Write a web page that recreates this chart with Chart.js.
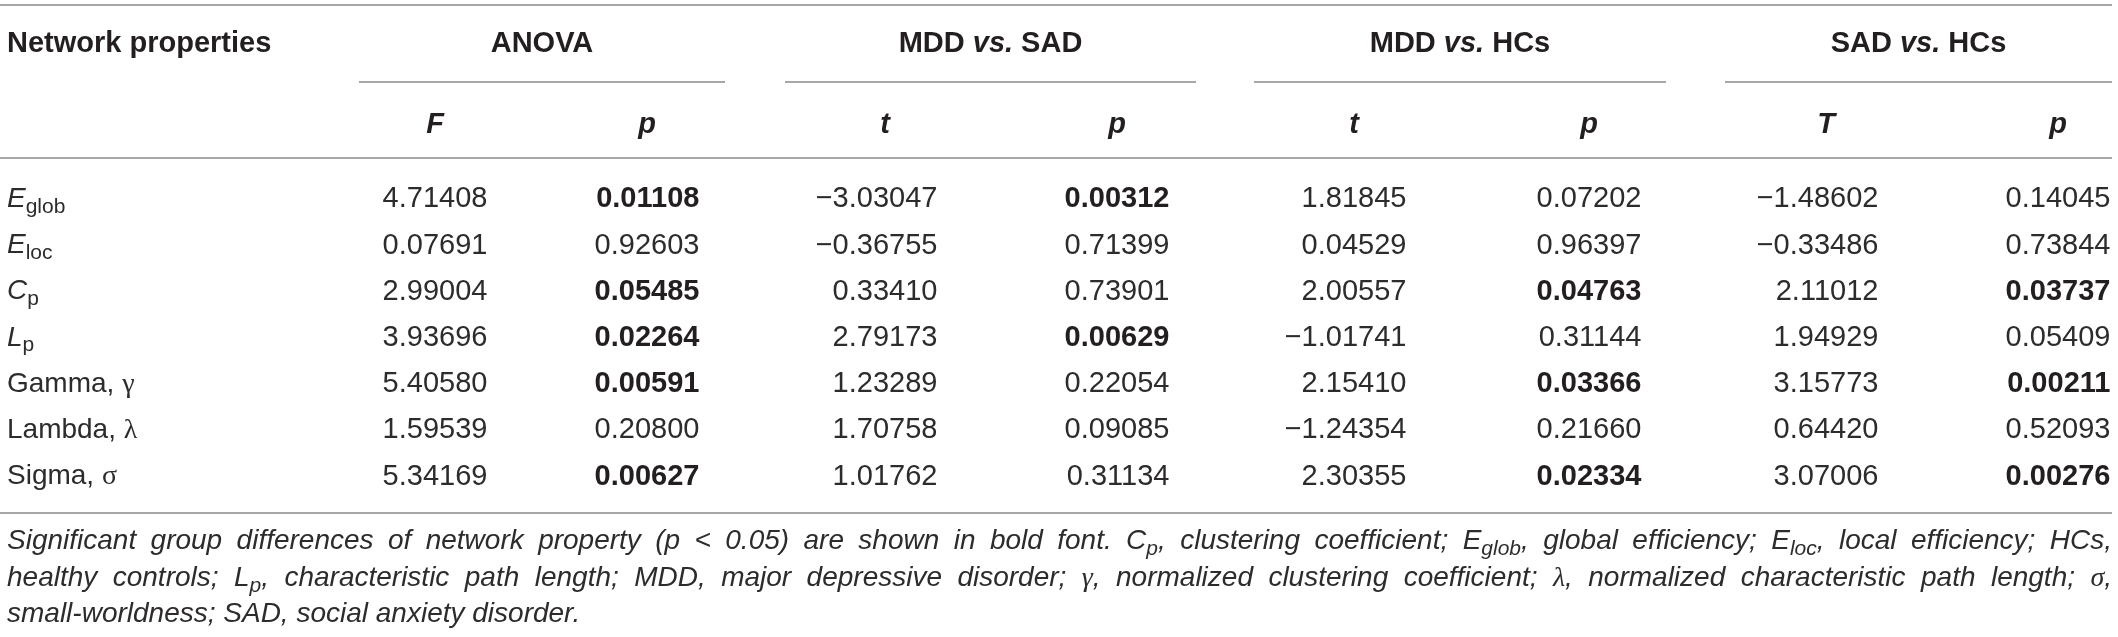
<!DOCTYPE html>
<html>
<head>
<meta charset="utf-8">
<script src="https://cdn.jsdelivr.net/npm/chart.js@4.4.1/dist/chart.umd.min.js"></script>
<style>
  html, body { margin: 0; padding: 0; background: #fff; }
  #wrap { width: 2118px; height: 637px; }
</style>
</head>
<body>
<div id="wrap"><canvas id="tbl" width="2118" height="637"></canvas></div>
<script>
// ---- table content ----
const groups = [
  [{ t: 'ANOVA', b: 1 }],
  [{ t: 'MDD ', b: 1 }, { t: 'vs.', b: 1, it: 1 }, { t: ' SAD', b: 1 }],
  [{ t: 'MDD ', b: 1 }, { t: 'vs.', b: 1, it: 1 }, { t: ' HCs', b: 1 }],
  [{ t: 'SAD ', b: 1 }, { t: 'vs.', b: 1, it: 1 }, { t: ' HCs', b: 1 }]
];
const statLabels = ['F', 'p', 't', 'p', 't', 'p', 'T', 'p'];

const propertyLabels = [
  [{ t: 'E', it: 1 }, { t: 'glob', sub: 1 }],
  [{ t: 'E', it: 1 }, { t: 'loc', sub: 1 }],
  [{ t: 'C', it: 1 }, { t: 'p', sub: 1 }],
  [{ t: 'L', it: 1 }, { t: 'p', sub: 1 }],
  [{ t: 'Gamma, ' }, { t: 'γ', serif: 1 }],
  [{ t: 'Lambda, ' }, { t: 'λ', serif: 1 }],
  [{ t: 'Sigma, ' }, { t: 'σ', serif: 1 }]
];

const anovaF     = [4.71408, 0.07691, 2.99004, 3.93696, 5.40580, 1.59539, 5.34169];
const anovaP     = [0.01108, 0.92603, 0.05485, 0.02264, 0.00591, 0.20800, 0.00627];
const mddSadT    = [-3.03047, -0.36755, 0.33410, 2.79173, 1.23289, 1.70758, 1.01762];
const mddSadP    = [0.00312, 0.71399, 0.73901, 0.00629, 0.22054, 0.09085, 0.31134];
const mddHcT     = [1.81845, 0.04529, 2.00557, -1.01741, 2.15410, -1.24354, 2.30355];
const mddHcP     = [0.07202, 0.96397, 0.04763, 0.31144, 0.03366, 0.21660, 0.02334];
const sadHcT     = [-1.48602, -0.33486, 2.11012, 1.94929, 3.15773, 0.64420, 3.07006];
const sadHcP     = [0.14045, 0.73844, 0.03737, 0.05409, 0.00211, 0.52093, 0.00276];

// which p values are set in bold in the source table
const anovaBold  = [1, 0, 1, 1, 1, 0, 1];
const mddSadBold = [1, 0, 0, 1, 0, 0, 0];
const mddHcBold  = [0, 0, 1, 0, 1, 0, 1];
const sadHcBold  = [0, 0, 1, 0, 1, 0, 1];

const columns = [anovaF, anovaP, mddSadT, mddSadP, mddHcT, mddHcP, sadHcT, sadHcP];
const boldCols = [null, anovaBold, null, mddSadBold, null, mddHcBold, null, sadHcBold];

const noteLines = [
  [{ t: 'Significant group differences of network property (p  < 0.05) are shown in bold font. C' }, { t: 'p', sub: 1 },
   { t: ', clustering coefficient; E' }, { t: 'glob', sub: 1 }, { t: ', global efficiency; E' }, { t: 'loc', sub: 1 },
   { t: ', local efficiency; HCs,' }],
  [{ t: 'healthy controls; L' }, { t: 'p', sub: 1 }, { t: ', characteristic path length; MDD, major depressive disorder; ' },
   { t: 'γ', serif: 1 }, { t: ', normalized clustering coefficient; ' }, { t: 'λ', serif: 1 },
   { t: ', normalized characteristic path length; ' }, { t: 'σ', serif: 1 }, { t: ',' }],
  [{ t: 'small-worldness; SAD, social anxiety disorder.' }]
];

// ---- layout (x in table units, y in row units) ----
const colCenter = [435, 647, 885, 1117, 1354, 1589, 1826, 2058];
const groupSpan = [[359, 725], [785, 1196], [1254, 1666], [1725, 2112]];
const leftX = 7, rightX = 2112;
const rowsY = { topRule: -4.156, group: -3.355, groupRule: -2.489, stat: -1.602, headRule: -0.844, bottomRule: 6.84 };
const noteY = [7.403, 8.203, 8.983];

const INK = '#231f20';
const LIGHT_INK = '#2e2b2c';
const RULE = '#8a8a8a';
const SANS = '"Liberation Sans", Arial, Helvetica, sans-serif';
const SERIF = '"Liberation Serif", "DejaVu Serif", serif';

function fontFor(run, size, italicAll) {
  const sz = run.sub ? Math.round(size * 0.76) : size;
  const it = run.it || (italicAll && !run.upright);
  return (it ? 'italic ' : '') + (run.b ? 'bold ' : '') + sz + 'px ' + (run.serif ? SERIF : SANS);
}

function runsWidth(ctx, runs, size, italicAll) {
  let w = 0;
  runs.forEach(r => { ctx.font = fontFor(r, size, italicAll); w += ctx.measureText(r.t).width; });
  return w;
}

function drawRuns(ctx, runs, x, centerY, size, italicAll) {
  const base = centerY + size * 0.36;
  let cx = x;
  runs.forEach(r => {
    ctx.font = fontFor(r, size, italicAll);
    ctx.fillText(r.t, cx, base + (r.sub ? size * 0.2 : 0));
    cx += ctx.measureText(r.t).width;
  });
}

function splitWords(runs) {
  const words = [];
  let cur = [];
  runs.forEach(r => {
    const parts = r.t.split(' ');
    parts.forEach((p, k) => {
      if (k > 0) { if (cur.length) words.push(cur); cur = []; }
      if (p.length) cur.push(Object.assign({}, r, { t: p }));
    });
  });
  if (cur.length) words.push(cur);
  return words;
}

const tablePlugin = {
  id: 'tableText',
  beforeDraw(chart) {
    const ctx = chart.ctx;
    ctx.save();
    ctx.fillStyle = '#fff';
    ctx.fillRect(0, 0, chart.width, chart.height);
    ctx.restore();
  },
  afterDatasetsDraw(chart) {
    const { ctx, scales: { x, y } } = chart;
    ctx.save();
    ctx.fillStyle = INK;
    ctx.textBaseline = 'alphabetic';
    ctx.textAlign = 'left';

    // rules
    ctx.strokeStyle = RULE;
    ctx.lineWidth = 1.6;
    const hRule = (x0, x1, v) => {
      const py = y.getPixelForValue(v);
      ctx.beginPath();
      ctx.moveTo(x.getPixelForValue(x0), py);
      ctx.lineTo(x.getPixelForValue(x1), py);
      ctx.stroke();
    };
    hRule(0, rightX, rowsY.topRule);
    hRule(0, rightX, rowsY.headRule);
    hRule(0, rightX, rowsY.bottomRule);
    groupSpan.forEach(s => hRule(s[0], s[1], rowsY.groupRule));

    // header rows
    drawRuns(ctx, [{ t: 'Network properties', b: 1 }], x.getPixelForValue(leftX), y.getPixelForValue(rowsY.group), 29);
    groups.forEach((g, k) => {
      const c = x.getPixelForValue((groupSpan[k][0] + groupSpan[k][1]) / 2);
      const w = runsWidth(ctx, g, 29);
      drawRuns(ctx, g, c - w / 2, y.getPixelForValue(rowsY.group), 29);
    });
    statLabels.forEach((s, j) => {
      const run = [{ t: s, b: 1, it: 1 }];
      const w = runsWidth(ctx, run, 29);
      drawRuns(ctx, run, x.getPixelForValue(colCenter[j]) - w / 2, y.getPixelForValue(rowsY.stat), 29);
    });

    // row labels
    ctx.fillStyle = LIGHT_INK;
    propertyLabels.forEach((lab, i) => {
      drawRuns(ctx, lab, x.getPixelForValue(leftX), y.getPixelForValue(i), 28);
    });

    // cells, placed at the dataset points
    ctx.font = '29px ' + SANS;
    const half = ctx.measureText('0.00000').width / 2;
    chart.data.datasets.forEach((ds, j) => {
      const meta = chart.getDatasetMeta(j);
      meta.data.forEach((pt, i) => {
        const v = columns[j][i];
        const txt = v.toFixed(5).replace('-', '\u2212');
        const bold = boldCols[j] && boldCols[j][i];
        ctx.fillStyle = bold ? INK : LIGHT_INK;
        ctx.font = (bold ? 'bold ' : '') + '29px ' + SANS;
        ctx.textAlign = 'right';
        ctx.fillText(txt, pt.x + half, pt.y + 29 * 0.36);
      });
    });
    ctx.textAlign = 'left';

    // footnote, justified
    ctx.fillStyle = LIGHT_INK;
    const avail = x.getPixelForValue(rightX) - x.getPixelForValue(leftX);
    noteLines.forEach((line, n) => {
      const size = 28;
      const words = splitWords(line);
      const widths = words.map(wd => runsWidth(ctx, wd, size, true));
      const total = widths.reduce((a, b) => a + b, 0);
      ctx.font = 'italic ' + size + 'px ' + SANS;
      const space = ctx.measureText(' ').width;
      const last = n === noteLines.length - 1;
      const gap = last ? space : (avail - total) / (words.length - 1);
      let cx = x.getPixelForValue(leftX);
      const cy = y.getPixelForValue(noteY[n]);
      words.forEach((wd, k) => {
        drawRuns(ctx, wd, cx, cy, size, true);
        cx += widths[k] + gap;
      });
    });
    ctx.restore();
  }
};

const datasets = columns.map((col, j) => ({
  label: statLabels[j],
  data: col.map((v, i) => ({ x: colCenter[j], y: i })),
  pointRadius: 0,
  showLine: false
}));

new Chart(document.getElementById('tbl').getContext('2d'), {
  type: 'scatter',
  data: { datasets: datasets },
  options: {
    responsive: false,
    animation: false,
    devicePixelRatio: 1,
    layout: { padding: 0 },
    events: [],
    plugins: { legend: { display: false }, tooltip: { enabled: false } },
    scales: {
      x: { type: 'linear', display: false, min: 0, max: 2118 },
      y: { type: 'linear', display: false, reverse: true, min: -4.264, max: 9.524 }
    }
  },
  plugins: [tablePlugin]
});
</script>
</body>
</html>
